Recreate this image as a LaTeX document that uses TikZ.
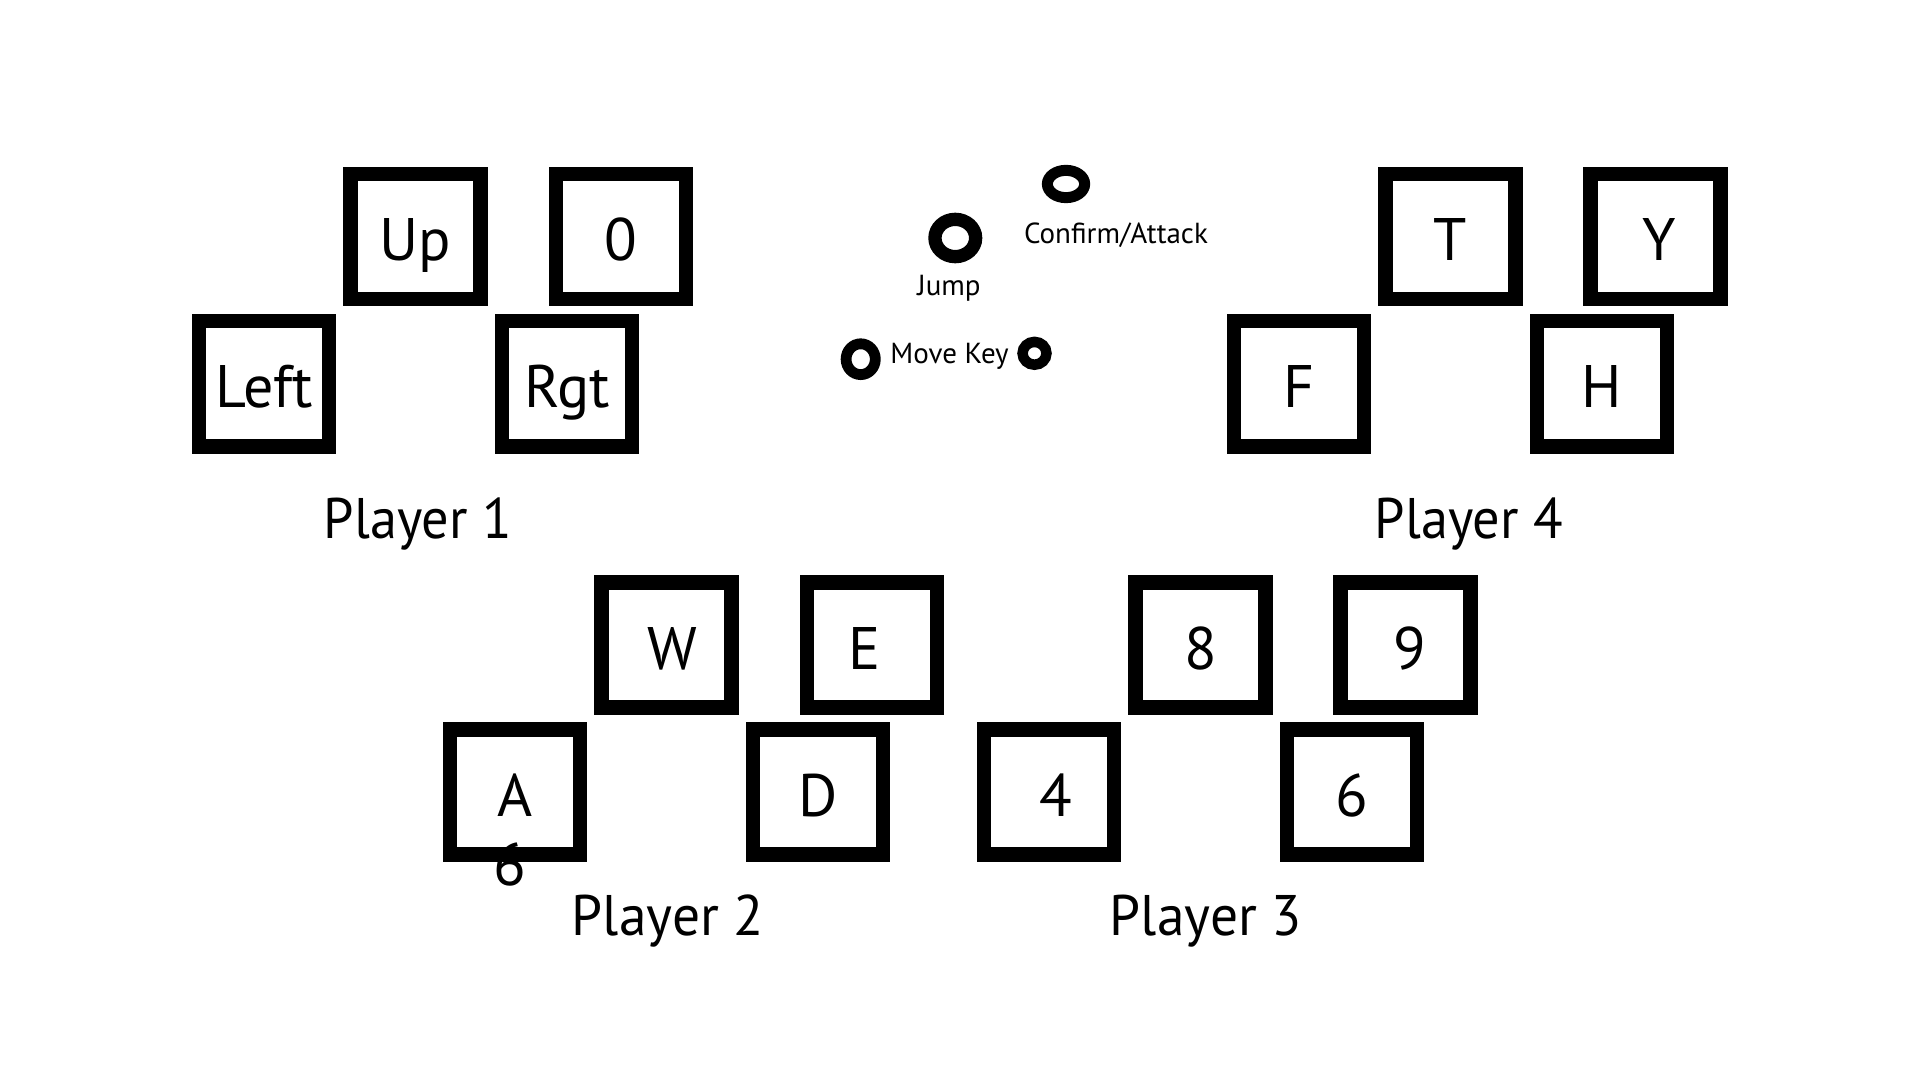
\documentclass[tikz,border=0pt]{standalone}
\usepackage{fontspec}
\setmainfont{PT Sans}
\usetikzlibrary{shapes.geometric}
\begin{document}
\begin{tikzpicture}[x=0.5pt,y=-0.5pt,
  keybox/.style={draw=black, line width=7.15pt, minimum width=65pt, minimum height=62.6pt,
    inner sep=0pt, text height=24pt, text depth=0pt, font=\fontsize{30}{36}\selectfont},
  keyfont/.style={font=\fontsize{30}{36}\selectfont},
  plabel/.style={anchor=base, inner sep=0pt, font=\fontsize{28.6}{34}\selectfont},
  ltext/.style={anchor=base, inner sep=0pt, font=\fontsize{14.5}{17}\selectfont},
  ring/.style={ellipse, draw=black, inner sep=0pt}]
\useasboundingbox[fill=white] (0,0) rectangle (1920,1080);

% stray digit under A (drawn first, partly covered by the box border)
\node[keyfont, anchor=base, inner sep=0pt] (stray) at (510,885) {6};

% Player 1
\node[keybox] (up)   at (415.5,236.3) {Up};
\node[keybox] (zero) at (620.7,236.3) {0};
\node[keybox] (left) at (264.2,383.8) {Left};
\node[keybox] (rgt)  at (567.0,383.8) {Rgt};
\node[plabel] (p1) at (418,538) {\scalebox{0.95}[1]{Player 1}};

% Player 4
\node[keybox] (t) at (1450.5,236.5) {T};
\node[keybox] (y) at (1655.5,236.5) {\hspace*{4pt}Y};
\node[keybox] (f) at (1299.0,383.8) {F};
\node[keybox] (h) at (1602.0,383.8) {H};
\node[plabel] (p4) at (1469,538) {\scalebox{0.95}[1]{Player 4}};

% Player 2
\node[keybox] (w) at (666.5,645) {\hspace*{6pt}W};
\node[keybox] (e) at (872.1,645) {\hspace*{-8pt}E};
\node[keybox] (a) at (514.8,792) {A};
\node[keybox] (d) at (818.0,792) {D};
\node[plabel] (p2) at (668,935) {\scalebox{0.97}[1]{Player 2}};

% Player 3
\node[keybox] (eight) at (1200.5,645) {8};
\node[keybox] (nine)  at (1405.5,645) {\hspace*{4pt}9};
\node[keybox] (four)  at (1049.0,792) {\hspace*{7pt}4};
\node[keybox] (six)   at (1352.0,792) {6};
\node[plabel] (p3) at (1206,935) {\scalebox{0.97}[1]{Player 3}};

% Legend
\node[ring, line width=5.5pt, minimum width=18.65pt, minimum height=13.65pt] (confirm) at (1066,184) {};
\node[ltext] (confirmtxt) at (1116,243.3) {Confirm/Attack};
\node[ring, line width=6.65pt, minimum width=20.35pt, minimum height=18.65pt] (jump) at (955.3,238) {};
\node[ltext] (jumptxt) at (949,296) {Jump};
\node[ring, line width=5.4pt, minimum width=14.6pt, minimum height=15.4pt] (movel) at (860.7,359.2) {};
\node[ring, line width=5.25pt, minimum width=11.95pt, minimum height=11.4pt] (mover) at (1034.5,353.3) {};
\node[ltext] (movetxt) at (949.5,363.3) {Move Key};
\end{tikzpicture}
\end{document}
